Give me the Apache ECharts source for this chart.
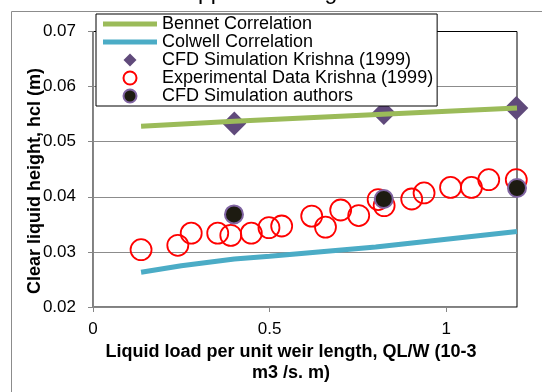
<!DOCTYPE html>
<html>
<head>
<meta charset="utf-8">
<script src="https://cdn.jsdelivr.net/npm/echarts@6/dist/echarts.min.js"></script>
<style>
  html, body { margin: 0; padding: 0; background: #fff; }
  #chart { width: 542px; height: 392px; }
</style>
</head>
<body>
<div id="chart"></div>
<script>
// data
var bennetLine = [[0.136, 0.0528], [0.4, 0.0537], [0.82, 0.0550], [1.2, 0.0561]];
var colwellLine = [[0.136, 0.0263], [0.25, 0.0275], [0.4, 0.0287], [0.5, 0.0292], [0.8, 0.0309], [1.2, 0.0337]];
var cfdKrishna = [[0.4, 0.0533], [0.823, 0.0552], [1.198, 0.0561]];
var expKrishna = [
  [0.136, 0.0304], [0.24, 0.0312], [0.278, 0.0334], [0.353, 0.0334], [0.39, 0.0330],
  [0.448, 0.0334], [0.498, 0.0344], [0.534, 0.0347], [0.619, 0.0365], [0.658, 0.0345],
  [0.701, 0.0376], [0.752, 0.0366], [0.807, 0.0395], [0.824, 0.0384], [0.902, 0.0396],
  [0.937, 0.0407], [1.012, 0.0417], [1.071, 0.0417], [1.12, 0.0431], [1.198, 0.0431]
];
var cfdAuthors = [[0.399, 0.0368], [0.823, 0.0396], [1.2, 0.0416]];
var seriesNames = [
  'Bennet Correlation',
  'Colwell Correlation',
  'CFD Simulation Krishna (1999)',
  'Experimental Data Krishna (1999)',
  'CFD Simulation authors'
];

var font = 'Liberation Sans, Arial, sans-serif';
var lineIcon = 'path://M0,0H54V5H0Z';
var diamondIcon = 'path://M7,0L14,7L7,14L0,7Z';
var chart = echarts.init(document.getElementById('chart'), null, { renderer: 'canvas' });

chart.setOption({
  backgroundColor: '#ffffff',
  animation: false,
  grid: {
    left: 93, right: 25, top: 31.5, bottom: 85,
    show: true, borderColor: '#000', borderWidth: 1, backgroundColor: 'transparent'
  },
  legend: {
    orient: 'vertical',
    left: 96, top: 14,
    padding: [1, 4, 1, 7],
    itemGap: 0,
    itemWidth: 54,
    itemHeight: 13,
    backgroundColor: '#fff',
    borderColor: '#000',
    borderWidth: 1,
    textStyle: { fontFamily: font, fontSize: 18, color: '#000' },
    data: [
      { name: seriesNames[0], icon: lineIcon },
      { name: seriesNames[1], icon: lineIcon },
      { name: seriesNames[2], icon: diamondIcon },
      { name: seriesNames[3], icon: 'circle' },
      { name: seriesNames[4], icon: 'circle' }
    ]
  },
  xAxis: {
    type: 'value',
    min: 0, max: 1.2, interval: 0.5,
    axisLine: { show: true, lineStyle: { color: '#868686' } },
    axisTick: { show: true, length: 5, lineStyle: { color: '#868686' } },
    splitLine: { show: false },
    axisLabel: {
      fontFamily: font, fontSize: 17, color: '#000', margin: 14,
      showMaxLabel: false,
      formatter: function (v) { return String(v); }
    }
  },
  yAxis: {
    type: 'value',
    min: 0.02, max: 0.07, interval: 0.01,
    axisLine: { show: true, lineStyle: { color: '#868686' } },
    axisTick: { show: true, length: 5, lineStyle: { color: '#868686' } },
    splitLine: { show: true, showMinLine: false, showMaxLine: false, lineStyle: { color: '#8c8c8c', width: 1 } },
    axisLabel: {
      fontFamily: font, fontSize: 17, color: '#000', margin: 17,
      formatter: function (v) { return v.toFixed(2); }
    }
  },
  graphic: [
    {
      type: 'rect', left: 9, top: 9, z: -10, silent: true,
      shape: { width: 600, height: 500 },
      style: { fill: 'none', stroke: '#8c8c8c', lineWidth: 1 }
    },
    {
      type: 'text', x: -4, y: 4, silent: true,
      style: {
        text: 'correlation can be appreciated again.',
        font: '23px ' + font, fill: '#000', verticalAlign: 'bottom', align: 'left'
      }
    },
    {
      type: 'text', x: 35, y: 181, rotation: Math.PI / 2, silent: true,
      style: {
        text: 'Clear liquid height, hcl (m)',
        font: 'bold 18px ' + font, fill: '#000', align: 'center', verticalAlign: 'middle'
      }
    },
    {
      type: 'text', x: 291, y: 363, silent: true,
      style: {
        text: 'Liquid load per unit weir length, QL/W (10-3\nm3 /s. m)',
        font: 'bold 18px ' + font, fill: '#000', align: 'center', verticalAlign: 'middle',
        lineHeight: 21
      }
    }
  ],
  series: [
    {
      name: seriesNames[0], type: 'line', data: bennetLine,
      symbol: 'none', color: '#9BBB59',
      lineStyle: { color: '#9BBB59', width: 5 }
    },
    {
      name: seriesNames[1], type: 'line', data: colwellLine,
      symbol: 'none', color: '#4BACC6',
      lineStyle: { color: '#4BACC6', width: 5 }
    },
    {
      name: seriesNames[2], type: 'scatter', data: cfdKrishna,
      symbol: 'diamond', symbolSize: 24,
      itemStyle: { color: '#604A7B', opacity: 1 }
    },
    {
      name: seriesNames[3], type: 'scatter', data: expKrishna,
      symbol: 'circle', symbolSize: 21,
      itemStyle: { color: 'rgba(255,255,255,0)', borderColor: '#FF0000', borderWidth: 1.8, opacity: 1 }
    },
    {
      name: seriesNames[4], type: 'scatter', data: cfdAuthors,
      symbol: 'circle', symbolSize: 18,
      itemStyle: { color: '#1d1b11', borderColor: '#8064A2', borderWidth: 2, opacity: 1 }
    }
  ]
});
</script>
</body>
</html>
